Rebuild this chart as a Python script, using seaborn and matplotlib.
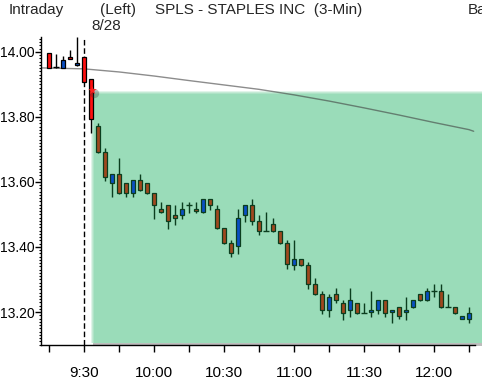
import seaborn as sns
import matplotlib.pyplot as plt
from matplotlib.patches import Rectangle
from matplotlib.ticker import MultipleLocator, FormatStrFormatter

# 3-min bars, minutes from 9:30 (negative = before the open)
bar_min = list(range(-15, 166, 3))
opens = [13.996, 13.954, 13.950, 13.984, 13.959, 13.984, 13.916, 13.772, 13.692, 13.598,
         13.625, 13.597, 13.567, 13.606, 13.597, 13.565, 13.517, 13.528, 13.498, 13.499,
         13.528, 13.516, 13.508, 13.547, 13.516, 13.458, 13.412, 13.403, 13.499, 13.529,
         13.480, 13.448, 13.471, 13.449, 13.412, 13.346, 13.363, 13.345, 13.286, 13.255,
         13.207, 13.255, 13.228, 13.207, 13.228, 13.196, 13.199, 13.207, 13.236, 13.199,
         13.215, 13.199, 13.216, 13.254, 13.237, 13.265, 13.265, 13.214, 13.215, 13.179,
         13.179]
highs = [13.996, 13.994, 13.988, 14.006, 14.046, 13.984, 13.916, 13.781, 13.705, 13.625,
         13.674, 13.597, 13.606, 13.625, 13.597, 13.565, 13.538, 13.528, 13.528, 13.538,
         13.538, 13.538, 13.547, 13.547, 13.529, 13.458, 13.422, 13.516, 13.529, 13.548,
         13.498, 13.508, 13.489, 13.449, 13.422, 13.422, 13.363, 13.354, 13.305, 13.265,
         13.255, 13.274, 13.237, 13.274, 13.228, 13.228, 13.265, 13.236, 13.236, 13.206,
         13.215, 13.246, 13.236, 13.254, 13.274, 13.286, 13.286, 13.255, 13.215, 13.187,
         13.215]
lows = [13.950, 13.952, 13.950, 13.978, 13.957, 13.909, 13.750, 13.690, 13.604, 13.555,
        13.563, 13.555, 13.555, 13.572, 13.563, 13.487, 13.506, 13.456, 13.469, 13.487,
        13.506, 13.506, 13.506, 13.514, 13.454, 13.409, 13.370, 13.378, 13.477, 13.469,
        13.438, 13.448, 13.447, 13.410, 13.331, 13.329, 13.342, 13.272, 13.253, 13.194,
        13.186, 13.227, 13.175, 13.186, 13.194, 13.196, 13.186, 13.194, 13.186, 13.167,
        13.177, 13.175, 13.212, 13.234, 13.234, 13.245, 13.212, 13.214, 13.194, 13.177,
        13.167]
closes = [13.950, 13.954, 13.975, 13.978, 13.966, 13.909, 13.793, 13.693, 13.616, 13.625,
          13.567, 13.567, 13.606, 13.575, 13.567, 13.530, 13.509, 13.481, 13.490, 13.516,
          13.528, 13.510, 13.547, 13.530, 13.458, 13.413, 13.382, 13.488, 13.529, 13.481,
          13.450, 13.448, 13.450, 13.412, 13.347, 13.363, 13.346, 13.287, 13.256, 13.207,
          13.246, 13.237, 13.198, 13.236, 13.198, 13.196, 13.206, 13.236, 13.198, 13.206,
          13.189, 13.206, 13.236, 13.237, 13.265, 13.265, 13.216, 13.214, 13.198, 13.187,
          13.197]
# r = red, b = blue, n = brown, d = doji
kinds = ['r', 'd', 'b', 'r', 'b', 'r', 'r',
         'n', 'n', 'b', 'n', 'n', 'b', 'n', 'n', 'n', 'n', 'n', 'n', 'b', 'd',
         'n', 'b', 'n', 'n', 'n', 'n', 'b', 'b', 'n', 'n', 'd', 'n', 'n', 'n',
         'b', 'n', 'n', 'n', 'n', 'b', 'n', 'n', 'b', 'n', 'd', 'b', 'b', 'n',
         'b', 'n', 'b', 'b', 'n', 'b', 'd', 'n', 'd', 'n', 'b', 'b']

# gray average line (time, price)
avg_min = [-18.5, 0, 15, 30, 45, 60, 75, 90, 105, 120, 135, 150, 165, 167]
avg_px = [13.951, 13.948, 13.9385, 13.926, 13.912, 13.8985, 13.885, 13.868, 13.849,
          13.828, 13.806, 13.783, 13.761, 13.756]

xtick_min = list(range(-15, 166, 15))
xtick_txt = ['', '9:30', '', '10:00', '', '10:30', '', '11:00', '', '11:30', '', '12:00', '']

sns.set_style('ticks')
plt.rcParams['font.family'] = ['Liberation Sans', 'DejaVu Sans']
plt.rcParams['font.size'] = 11

fig = plt.figure(figsize=(4.82, 3.81), dpi=100)
ax = fig.add_axes([41 / 482, 36 / 381, 434 / 482, 308 / 381])
ax.set_xlim(-18.43, 167.57)
ax.set_ylim(13.0985, 14.046)

tpx = 3 / 7      # minutes per pixel
ppx = 1 / 325    # price per pixel

# green zone with soft shadow
x0, y0, y1 = 3.0, 13.104, 13.880
ax.add_patch(Rectangle((x0 + 2 * tpx, y0 - 3 * ppx), 200, y1 - y0, color='#bdbdbd',
                       lw=0, zorder=1, clip_on=False))
for i, col in enumerate(['#e2f4ea', '#c4ead5', '#aee2c6', '#9adcb9']):
    ax.add_patch(Rectangle((x0 + i * tpx, y0), 200, y1 - y0 - i * ppx, color=col,
                           lw=0, zorder=1.1 + i * 0.01, clip_on=False))

sns.lineplot(x=avg_min, y=avg_px, ax=ax, color='#404040', alpha=0.6, lw=1, zorder=2)
ax.axvline(0, color='black', lw=1, dashes=(4, 2), zorder=2)

fill = {'r': '#ff1010', 'b': '#0a4fc4', 'n': '#a0481e', 'd': 'none'}
for t, o, h, l, c, k in zip(bar_min, opens, highs, lows, closes, kinds):
    edge = 'black' if (t < 0 or k == 'r') else '#0b3d1e'
    ax.vlines(t, l, h, color=edge, lw=1, zorder=3)
    if k == 'd':
        ax.hlines(o, t - 1.1, t + 1.1, color=edge, lw=1, zorder=4)
    else:
        ax.bar(t, abs(c - o), bottom=min(o, c), width=2.0, color=fill[k],
               edgecolor=edge, linewidth=0.9, zorder=4)

# little red marker at the zone corner
ax.scatter([3.4 + 2 * tpx], [13.883 - 3 * ppx], s=45, color='#303030', alpha=0.3,
           lw=0, zorder=5)
ax.scatter([3.4], [13.883], s=40, color='#ff2020', marker='*', lw=0, zorder=6)

sns.despine(ax=ax)
for s in ['left', 'bottom']:
    ax.spines[s].set_color('black')
    ax.spines[s].set_linewidth(1)

ax.set_xticks(xtick_min)
ax.set_xticklabels(xtick_txt)
ax.yaxis.set_major_locator(MultipleLocator(0.2))
ax.yaxis.set_minor_locator(MultipleLocator(0.01))
ax.yaxis.set_major_formatter(FormatStrFormatter('%.2f'))
ax.tick_params(axis='x', direction='out', length=5, width=1, pad=10, labelsize=11,
               colors='black')
ax.tick_params(axis='y', which='major', direction='out', length=4.3, width=1, pad=0.5,
               labelsize=10, colors='black')
ax.tick_params(axis='y', which='minor', direction='out', length=1.8, width=0.8,
               colors='black')
ax.set_xlabel('')
ax.set_ylabel('')

yb = 1 - 14 / 381
fig.text(9 / 482, yb, 'Intraday', va='baseline', fontsize=11)
fig.text(100 / 482, yb, '(Left)', va='baseline', fontsize=11)
fig.text(155 / 482, yb, 'SPLS - STAPLES INC  (3-Min)', va='baseline', fontsize=11)
fig.text(468 / 482, yb, 'Ba', va='baseline', fontsize=11)
fig.text(91 / 482, 1 - 30 / 381, '8/28', va='baseline', fontsize=11)

fig.savefig('out.png', dpi=100)
